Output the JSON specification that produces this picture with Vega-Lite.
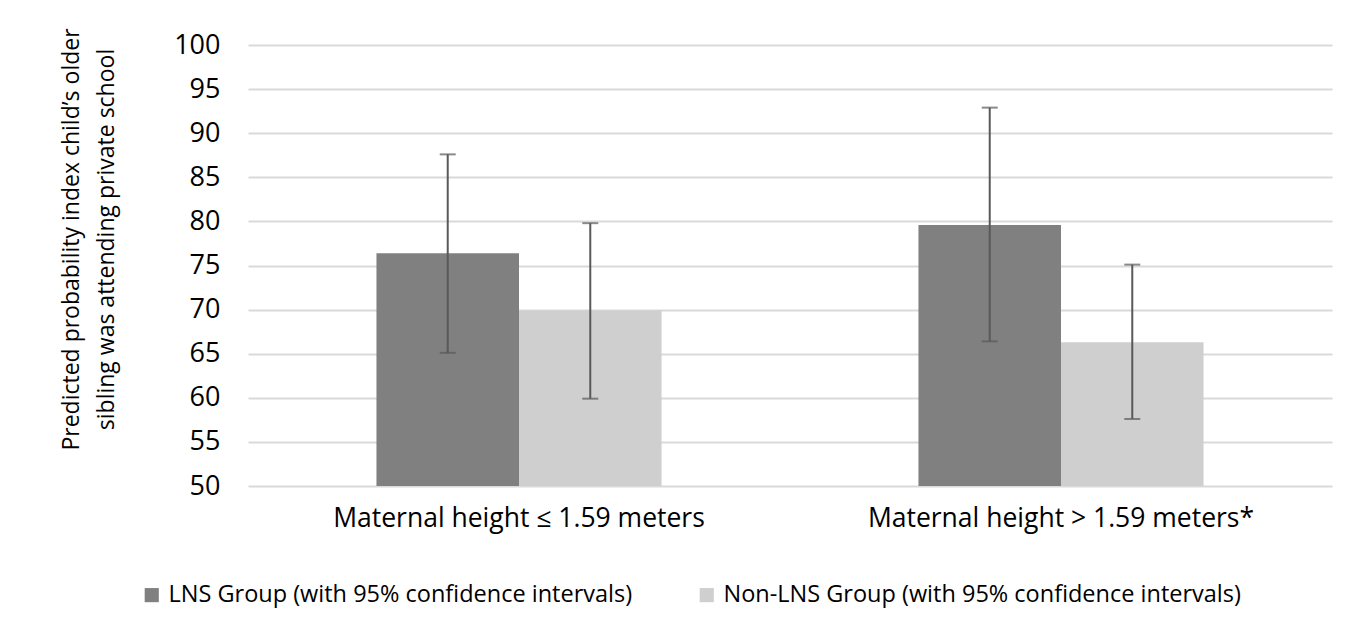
{
  "$schema": "https://vega.github.io/schema/vega-lite/v6.json",
  "width": 1084,
  "height": 441,
  "autosize": {"type": "none"},
  "padding": {"left": 248, "top": 45, "right": 40, "bottom": 148},
  "background": "white",
  "config": {
    "view": {"stroke": null},
    "font": "Open Sans"
  },
  "data": {
    "values": [
      {"group": "Maternal height ≤ 1.59 meters", "series": "LNS Group (with 95% confidence intervals)", "value": 76.4, "lo": 65.1, "hi": 87.6},
      {"group": "Maternal height ≤ 1.59 meters", "series": "Non-LNS Group (with 95% confidence intervals)", "value": 69.9, "lo": 59.9, "hi": 79.8},
      {"group": "Maternal height > 1.59 meters*", "series": "LNS Group (with 95% confidence intervals)", "value": 79.6, "lo": 66.4, "hi": 92.9},
      {"group": "Maternal height > 1.59 meters*", "series": "Non-LNS Group (with 95% confidence intervals)", "value": 66.3, "lo": 57.6, "hi": 75.1}
    ]
  },
  "encoding": {
    "x": {
      "field": "group", "type": "nominal", "sort": null,
      "scale": {"paddingInner": 0.474, "paddingOuter": 0.237},
      "axis": {"title": null, "labelAngle": 0, "labelFontSize": 26.5, "labelColor": "#000000", "labelPadding": 19, "labelLimit": 0, "ticks": false, "domain": false, "labelFont": "Open Sans"}
    },
    "xOffset": {"field": "series", "type": "nominal", "sort": null}
  },
  "layer": [
    {
      "mark": {"type": "bar", "clip": true},
      "encoding": {
        "y": {
          "field": "value", "type": "quantitative",
          "scale": {"domain": [50, 100], "nice": false, "zero": false},
          "axis": {
            "values": [50, 55, 60, 65, 70, 75, 80, 85, 90, 95, 100],
            "title": ["Predicted probability index child’s older", "sibling was attending private school"],
            "titleFontSize": 23, "titleFontWeight": "normal", "titleColor": "#000000",
            "titleFont": "Open Sans", "titleLineHeight": 35,
            "titleAngle": -90, "titleBaseline": "top", "titleAlign": "center",
            "titleX": -188, "titleY": 194, "titleLimit": 0,
            "labelFontSize": 27, "labelColor": "#000000", "labelPadding": 28,
            "ticks": false, "domain": false,
            "gridColor": "#d9d9d9", "gridWidth": 2
          }
        },
        "y2": {"datum": 50},
        "color": {
          "field": "series", "type": "nominal", "sort": null,
          "scale": {"range": ["#808080", "#d0cfcf"]},
          "legend": {
            "title": null, "orient": "none", "direction": "horizontal",
            "legendX": -108, "legendY": 538,
            "symbolType": "square", "symbolSize": 200, "symbolStrokeWidth": 0,
            "labelFontSize": 23.5, "labelColor": "#000000", "labelFont": "Open Sans", "labelLimit": 0,
            "columnPadding": 62, "labelOffset": 5
          }
        }
      }
    },
    {
      "mark": {"type": "rule", "color": "#595959", "strokeWidth": 2},
      "encoding": {
        "y": {"field": "lo", "type": "quantitative"},
        "y2": {"field": "hi"}
      }
    },
    {
      "mark": {"type": "tick", "color": "#595959", "thickness": 2, "size": 16, "orient": "horizontal"},
      "encoding": {"y": {"field": "lo", "type": "quantitative"}}
    },
    {
      "mark": {"type": "tick", "color": "#595959", "thickness": 2, "size": 16, "orient": "horizontal"},
      "encoding": {"y": {"field": "hi", "type": "quantitative"}}
    }
  ]
}
